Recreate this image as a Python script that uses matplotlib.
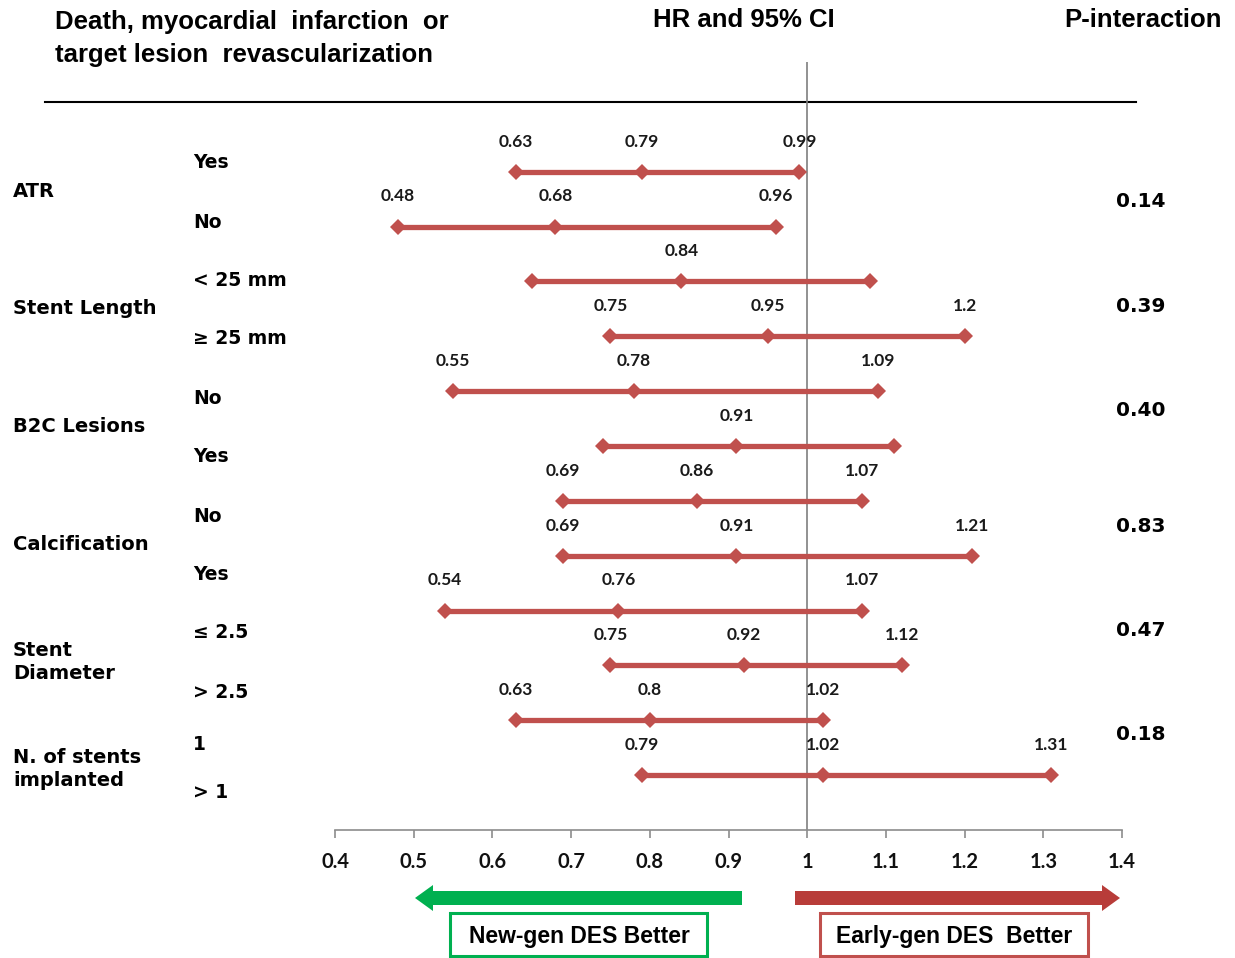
#!/usr/bin/env python3
"""Forest plot: death, MI or TLR by subgroup, new- vs early-generation DES."""

import matplotlib

matplotlib.use("Agg")
import matplotlib.pyplot as plt
from matplotlib.patches import FancyArrow, Rectangle

# subgroup rows, top to bottom
GROUPS = ["ATR", "Stent Length", "B2C Lesions", "Calcification",
          "Stent\nDiameter", "N. of stents\nimplanted"]
SUBGROUPS = ["Yes", "No", "< 25 mm", "\u2265 25 mm", "No", "Yes",
             "No", "Yes", "\u2264 2.5", "> 2.5", "1", "> 1"]
HR = [0.79, 0.68, 0.84, 0.95, 0.78, 0.91, 0.86, 0.91, 0.76, 0.92, 0.80, 1.02]
CI_LOW = [0.63, 0.48, 0.65, 0.75, 0.55, 0.74, 0.69, 0.69, 0.54, 0.75, 0.63, 0.79]
CI_HIGH = [0.99, 0.96, 1.08, 1.20, 1.09, 1.11, 1.07, 1.21, 1.07, 1.12, 1.02, 1.31]
# rows where the CI bounds carry a value label
BOUNDS_LABELLED = [True, True, False, True, True, False,
                   True, True, True, True, True, True]
P_INTERACTION = ["0.14", "0.39", "0.40", "0.83", "0.47", "0.18"]
X_TICKS = [0.4, 0.5, 0.6, 0.7, 0.8, 0.9, 1.0, 1.1, 1.2, 1.3, 1.4]

W, H = 1235, 958
RED = "#C0504D"
GREEN = "#00B050"

# pixel layout for the text columns
GROUP_Y = [191, 309, 427, 545, 662, 769]
SUB_Y = [162, 222, 280, 338, 398, 456, 516, 574, 633, 692, 745, 792]
P_Y = [201, 306, 410, 526, 630, 735]

fig = plt.figure(figsize=(W / 100, H / 100), dpi=100)
fig.patch.set_facecolor("white")

# full-figure overlay in pixel coordinates for headers and labels
deco = fig.add_axes([0, 0, 1, 1])
deco.set_xlim(0, W)
deco.set_ylim(H, 0)
deco.axis("off")

# forest panel: x spans 0.4-1.4, bottom spine at the axis line
ax_left, ax_right, ax_top, ax_bottom = 335, 1122, 62, 830
ax = fig.add_axes([ax_left / W, 1 - ax_bottom / H,
                   (ax_right - ax_left) / W, (ax_bottom - ax_top) / H])
ax.set_xlim(0.4, 1.4)
ax.set_ylim(12.0, -2.0)
ax.patch.set_alpha(0)
for side in ("top", "right", "left"):
    ax.spines[side].set_visible(False)
ax.spines["bottom"].set_color("#8c8c8c")
ax.spines["bottom"].set_linewidth(1.2)
ax.set_yticks([])
ax.set_xticks(X_TICKS)
ax.set_xticklabels([f"{t:g}" for t in X_TICKS], family="Lato",
                   fontweight="bold", fontsize=14.5, color="#111111")
ax.tick_params(axis="x", direction="out", length=6, width=1.2,
               color="#8c8c8c", pad=10)

ax.axvline(1.0, color="#7f7f7f", lw=1.2, zorder=1)

for i, (hr, lo, hi) in enumerate(zip(HR, CI_LOW, CI_HIGH)):
    ax.plot([lo, hr, hi], [i, i, i], color=RED, lw=3.8, marker="D",
            markersize=8.5, markeredgewidth=0, solid_capstyle="butt", zorder=3)
    shown = [hr] if not BOUNDS_LABELLED[i] else [lo, hr, hi]
    for v in shown:
        ax.text(v, i - 0.55, f"{v:g}", ha="center", va="center",
                family="Lato", fontweight="bold", fontsize=12.5, color="#1a1a1a")

# header
hfont = dict(family="Liberation Sans", fontweight="bold", fontsize=18.5, color="black")
deco.text(55, 22, "Death, myocardial  infarction  or", ha="left", va="center", **hfont)
deco.text(55, 55, "target lesion  revascularization", ha="left", va="center", **hfont)
deco.text(744, 20, "HR and 95% CI", ha="center", va="center", **hfont)
deco.text(1222, 20, "P-interaction", ha="right", va="center", **hfont)
deco.plot([45, 1136], [102, 102], color="black", lw=1.5)

lfont = dict(family="DejaVu Sans", fontweight="bold", color="black")
for name, y in zip(GROUPS, GROUP_Y):
    deco.text(13, y, name, ha="left", va="center", linespacing=1.3,
              fontsize=14, **lfont)
for name, y in zip(SUBGROUPS, SUB_Y):
    deco.text(193, y, name, ha="left", va="center", fontsize=13.5, **lfont)
for p, y in zip(P_INTERACTION, P_Y):
    deco.text(1116, y, p, ha="left", va="center", fontsize=14.5, **lfont)

# direction arrows and captions
deco.add_patch(FancyArrow(742, 898, -327, 0, width=14, head_width=26,
                          head_length=18, length_includes_head=True,
                          color=GREEN, lw=0))
deco.add_patch(FancyArrow(795, 898, 325, 0, width=14, head_width=26,
                          head_length=18, length_includes_head=True,
                          color="#B83C39", lw=0))
deco.add_patch(Rectangle((450, 913), 257, 43, fill=False, edgecolor=GREEN, lw=2.2))
deco.add_patch(Rectangle((820, 913), 268, 43, fill=False, edgecolor=RED, lw=2.2))
bfont = dict(family="Liberation Sans", fontweight="bold", fontsize=16.5, color="black")
deco.text(579, 936, "New-gen DES Better", ha="center", va="center", **bfont)
deco.text(954, 936, "Early-gen DES  Better", ha="center", va="center", **bfont)

fig.savefig("out.png", dpi=100, facecolor="white")
